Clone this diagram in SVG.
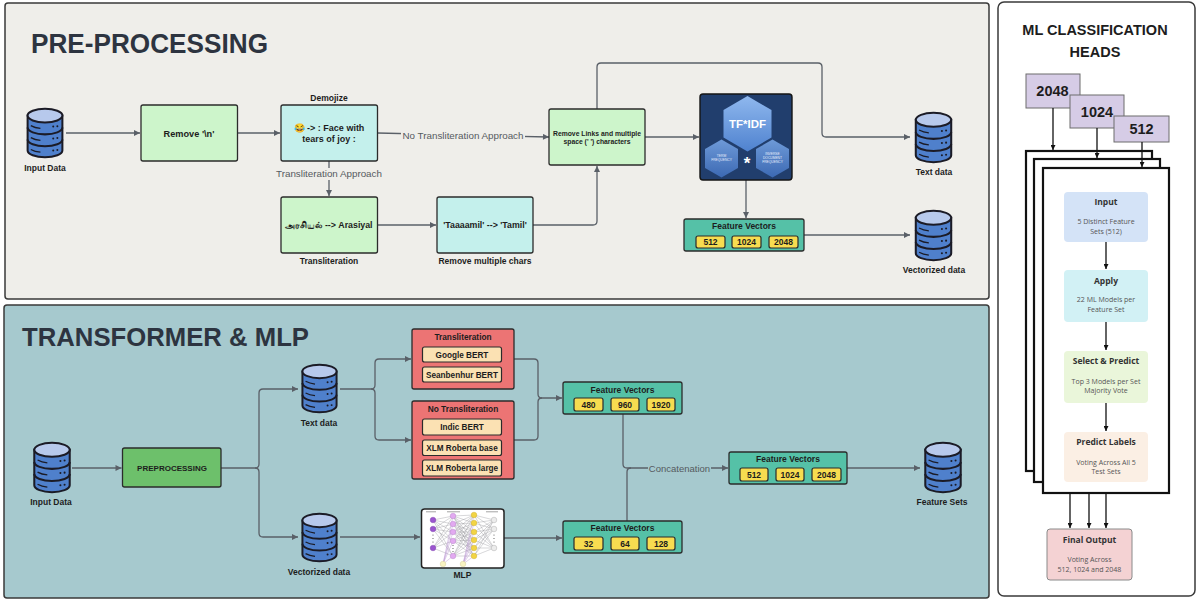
<svg xmlns="http://www.w3.org/2000/svg" width="1196" height="599" viewBox="0 0 1196 599">
<style>
.t{font-family:"Liberation Sans",Arial,sans-serif;font-weight:bold;fill:#1d1d1d;text-anchor:middle}
.g{font-family:"Liberation Sans",Arial,sans-serif;fill:#555a60;text-anchor:middle}
.o{font-family:"Open Sans","Liberation Sans",sans-serif;text-anchor:middle}
.title{font-family:"Liberation Sans",Arial,sans-serif;font-weight:bold;fill:#2d3440}
.conn{fill:none;stroke:#5a6068;stroke-width:1.3}
.k{fill:none;stroke:#111;stroke-width:1.3}
.bx{stroke:#2b2b2b;stroke-width:1.3}
.lg{fill:#cdf5cb}
.lc{fill:#c4f0ec}
.fv{fill:#55c1a7;stroke:#2b2b2b;stroke-width:1.3}
.pill{fill:#f7dc50;stroke:#2b2b2b;stroke-width:1.2}
.red{fill:#ec7474;stroke:#2b2b2b;stroke-width:1.3}
.pch{fill:#fbe1b3;stroke:#2b2b2b;stroke-width:1.2}
.frm{fill:#fff;stroke:#111;stroke-width:2.2}
.pur{fill:#d6cce6;stroke:#6d6d6d;stroke-width:1}
</style>
<defs>
<marker id="ah" viewBox="0 0 10 10" refX="10" refY="5" markerWidth="7" markerHeight="6" orient="auto" markerUnits="userSpaceOnUse"><path d="M0,0L10,5L0,10z" fill="#5a6068"/></marker>
<marker id="ak" viewBox="0 0 10 10" refX="10" refY="5" markerWidth="5" markerHeight="5" orient="auto" markerUnits="userSpaceOnUse"><path d="M0,0L10,5L0,10z" fill="#111"/></marker>
<symbol id="db" viewBox="-1.5 -1.5 45 59">
<path d="M2,9V47A19,7.5 0 0 0 40,47V9Z" fill="#4f80cc" stroke="#1b1b26" stroke-width="2.2"/>
<path d="M2,22A19,7.5 0 0 0 40,22M2,35A19,7.5 0 0 0 40,35" fill="none" stroke="#1b1b26" stroke-width="2.2"/>
<ellipse cx="21" cy="9" rx="19" ry="7.5" fill="#b7c9ec" stroke="#1b1b26" stroke-width="2.2"/>
<path d="M5.5,20Q10,22.5 16,23M5.5,33Q10,35.5 16,36M5.5,46Q10,48.5 16,49" fill="none" stroke="#1b1b26" stroke-width="1.4"/>
<g fill="#1b1b26"><circle cx="30" cy="21" r="1.1"/><circle cx="34.5" cy="20.5" r="1.1"/><circle cx="30" cy="34" r="1.1"/><circle cx="34.5" cy="33.5" r="1.1"/><circle cx="30" cy="47" r="1.1"/><circle cx="34.5" cy="46.5" r="1.1"/></g>
</symbol>
<linearGradient id="hx" x1="0" y1="0" x2="0" y2="1"><stop offset="0" stop-color="#8fb8ee"/><stop offset="1" stop-color="#4f82cf"/></linearGradient>
<linearGradient id="hx2" x1="0" y1="0" x2="0" y2="1"><stop offset="0" stop-color="#6e9ad8"/><stop offset="1" stop-color="#3c69b3"/></linearGradient>
</defs>

<!-- panels -->
<rect x="5" y="3" width="984" height="296" rx="3" fill="#efeeea" stroke="#3a3a3a" stroke-width="1.5"/>
<rect x="4" y="305" width="985" height="293" rx="3" fill="#a6c9ce" stroke="#3a3a3a" stroke-width="1.5"/>
<rect x="998" y="2" width="197" height="594" rx="6" fill="#fff" stroke="#3a3a3a" stroke-width="1.5"/>
<text class="title" x="31" y="53" font-size="27" textLength="237" lengthAdjust="spacingAndGlyphs">PRE-PROCESSING</text>
<text class="title" x="22" y="346" font-size="26" textLength="287" lengthAdjust="spacingAndGlyphs">TRANSFORMER &amp; MLP</text>

<!-- connectors -->
<g id="connectors">
<path class="conn" d="M66,133H140" marker-end="url(#ah)"/>
<path class="conn" d="M237.5,133H280" marker-end="url(#ah)"/>
<path class="conn" d="M377.5,133L549,137" marker-end="url(#ah)"/>
<rect x="401" y="128" width="124" height="13" fill="#efeeea"/>
<text class="g" x="463" y="138.5" font-size="9.8">No Transliteration Approach</text>
<path class="conn" d="M329,161V196" marker-end="url(#ah)"/>
<rect x="274" y="168" width="110" height="12" fill="#efeeea"/>
<text class="g" x="329" y="177" font-size="9.8">Transliteration Approach</text>
<path class="conn" d="M377.5,225H436" marker-end="url(#ah)"/>
<path class="conn" d="M533,225H593Q597,225 597,221V166" marker-end="url(#ah)"/>
<path class="conn" d="M597,109V67Q597,63 601,63H818Q822,63 822,67V133Q822,137 826,137H910" marker-end="url(#ah)"/>
<path class="conn" d="M645,137H699" marker-end="url(#ah)"/>
<path class="conn" d="M746,180V218" marker-end="url(#ah)"/>
<path class="conn" d="M804,235H910" marker-end="url(#ah)"/>

<path class="conn" d="M72,468H121.5" marker-end="url(#ah)"/>
<path class="conn" d="M221,468H255Q259,468 259,464V393Q259,389 263,389H298" marker-end="url(#ah)"/>
<path class="conn" d="M255,468Q259,468 259,472V533Q259,537 263,537H298" marker-end="url(#ah)"/>
<path class="conn" d="M340,389H371Q375,389 375,385V363Q375,359 379,359H411" marker-end="url(#ah)"/>
<path class="conn" d="M371,389Q375,389 375,393V436Q375,440 379,440H411" marker-end="url(#ah)"/>
<path class="conn" d="M514,359H534Q538,359 538,363V394Q538,398 542,398H562" marker-end="url(#ah)"/>
<path class="conn" d="M514,440H534Q538,440 538,436V402Q538,398 542,398"/>
<path class="conn" d="M340,537H420" marker-end="url(#ah)"/>
<path class="conn" d="M504,538H562" marker-end="url(#ah)"/>
<path class="conn" d="M623,414V464Q623,468 627,468H728" marker-end="url(#ah)"/>
<path class="conn" d="M627,521V472Q627,468 631,468"/>
<rect x="648" y="462" width="63" height="12" fill="#a6c9ce"/>
<text class="g" x="679.5" y="471.5" font-size="9.5">Concatenation</text>
<path class="conn" d="M847,468H920" marker-end="url(#ah)"/>
</g>

<!-- pre-processing nodes -->
<g id="in1"><use href="#db" x="24" y="106" width="42" height="54"/><text class="t" x="45" y="171" font-size="8.5">Input Data</text></g>
<g id="rmn"><rect class="bx lg" x="141" y="105" width="96.5" height="56" rx="2"/><text class="t" x="189" y="136.5" font-size="9.2">Remove '\n'</text></g>
<g id="demoji"><text class="t" x="329" y="101" font-size="8.5">Demojize</text><rect class="bx lc" x="281" y="105" width="96.5" height="56" rx="2"/>
<text class="t" x="329" y="131" font-size="9">😂 -&gt; : Face with</text><text class="t" x="329" y="141.5" font-size="9">tears of joy :</text></g>
<g id="translit"><rect class="bx lg" x="281" y="197" width="96.5" height="56" rx="2"/><text class="t" x="329" y="228" font-size="8.8">அரசியல் --&gt; Arasiyal</text><text class="t" x="329" y="263.5" font-size="8.5">Transliteration</text></g>
<g id="rmchars"><rect class="bx lc" x="437" y="197" width="96" height="56" rx="2"/><text class="t" x="485" y="228" font-size="8.8">'Taaaamil' --&gt; 'Tamil'</text><text class="t" x="485" y="263.5" font-size="8.5">Remove multiple chars</text></g>
<g id="rmlinks"><rect class="bx lg" x="549" y="109" width="96" height="56" rx="2"/><text class="t" x="597" y="135.5" font-size="6.8">Remove Links and multiple</text><text class="t" x="597" y="144" font-size="6.8">space (' ') characters</text></g>
<g id="tfidf"><rect x="700" y="94" width="92" height="86" rx="3" fill="#213e6d" stroke="#151515" stroke-width="1.4"/>
<polygon points="747.5,96 771.5,110 771.5,137.5 747.5,151.5 723.5,137.5 723.5,110" fill="url(#hx)"/>
<polygon points="721.5,139.5 738,149 738,168 721.5,177.5 705,168 705,149" fill="url(#hx2)"/>
<polygon points="772.5,139.5 789,149 789,168 772.5,177.5 756,168 756,149" fill="url(#hx2)"/>
<text x="747.5" y="128" font-family="Liberation Sans,Arial,sans-serif" font-weight="bold" font-size="11.5" fill="#fff" text-anchor="middle" textLength="37" lengthAdjust="spacingAndGlyphs">TF*IDF</text>
<g font-family="Liberation Sans,Arial,sans-serif" font-size="3.3" fill="#e6eefc" text-anchor="middle"><text x="721.5" y="156.5">TERM</text><text x="721.5" y="160.5">FREQUENCY</text><text x="772.5" y="154.5">INVERSE</text><text x="772.5" y="158.5">DOCUMENT</text><text x="772.5" y="162.5">FREQUENCY</text></g>
<text x="747" y="168.5" font-family="Liberation Sans,Arial,sans-serif" font-weight="bold" font-size="17" fill="#fff" text-anchor="middle">*</text></g>
<g id="fvtop"><rect class="fv" x="684" y="219" width="120" height="32" rx="2"/><text class="t" x="744" y="228.5" font-size="8.5">Feature Vectors</text>
<rect class="pill" x="696" y="236" width="29" height="12" rx="2"/><rect class="pill" x="732" y="236" width="29" height="12" rx="2"/><rect class="pill" x="769" y="236" width="29" height="12" rx="2"/>
<text class="t" x="710.5" y="245" font-size="8.5">512</text><text class="t" x="746.5" y="245" font-size="8.5">1024</text><text class="t" x="783.5" y="245" font-size="8.5">2048</text></g>
<g id="textdata1"><use href="#db" x="912" y="110" width="43" height="55"/><text class="t" x="934" y="174.5" font-size="8.5">Text data</text></g>
<g id="vecdata1"><use href="#db" x="912" y="208" width="43" height="55"/><text class="t" x="934" y="272.5" font-size="8.5">Vectorized data</text></g>

<!-- transformer nodes -->
<g id="in2"><use href="#db" x="31" y="440" width="42" height="55"/><text class="t" x="51" y="505" font-size="8.5">Input Data</text></g>
<g id="prep"><rect class="bx" x="122.5" y="448" width="98.5" height="39" rx="2" fill="#6dc06b"/><text class="t" x="172" y="471" font-size="8">PREPROCESSING</text></g>
<g id="textdata2"><use href="#db" x="299" y="362" width="41" height="53"/><text class="t" x="319" y="426" font-size="8.5">Text data</text></g>
<g id="vecdata2"><use href="#db" x="299" y="511" width="41" height="53"/><text class="t" x="319" y="574.5" font-size="8.5">Vectorized data</text></g>
<g id="tlbox"><rect class="red" x="412" y="329" width="102" height="60" rx="2"/><text class="t" x="463" y="339.5" font-size="8.3">Transliteration</text>
<rect class="pch" x="422.5" y="347" width="79" height="15" rx="2"/><text class="t" x="462" y="357.5" font-size="8.2">Google BERT</text>
<rect class="pch" x="422.5" y="367" width="79" height="15" rx="2"/><text class="t" x="462" y="377.5" font-size="8.2">Seanbenhur BERT</text></g>
<g id="ntlbox"><rect class="red" x="412" y="401" width="102" height="78" rx="2"/><text class="t" x="463" y="412" font-size="8.3">No Transliteration</text>
<rect class="pch" x="422.5" y="419" width="79" height="16" rx="2"/><text class="t" x="462" y="430" font-size="8.2">Indic BERT</text>
<rect class="pch" x="422.5" y="440" width="79" height="15.5" rx="2"/><text class="t" x="462" y="450.7" font-size="8.2">XLM Roberta base</text>
<rect class="pch" x="422.5" y="460" width="79" height="16" rx="2"/><text class="t" x="462" y="471" font-size="8.2">XLM Roberta large</text></g>
<g id="mlp"><rect x="421.5" y="509" width="82.5" height="59" rx="3" fill="#fff" stroke="#222" stroke-width="1.5"/>
<path d="M426,511.8H436M447,511.8H460M486,511.8H498" stroke="#9a9a9a" stroke-width="0.9"/>
<path fill="none" stroke="#8d8d95" stroke-width="0.35" d="M433 520L453 516M433 520L453 524M433 520L453 532M433 520L453 541M433 520L453 556M433 529L453 516M433 529L453 524M433 529L453 532M433 529L453 541M433 529L453 556M433 548L453 516M433 548L453 524M433 548L453 532M433 548L453 541M433 548L453 556
M453 516L474 515M453 516L474 523M453 516L474 532M453 516L474 540M453 516L474 548M453 516L474 556M453 524L474 515M453 524L474 523M453 524L474 532M453 524L474 540M453 524L474 548M453 524L474 556M453 532L474 515M453 532L474 523M453 532L474 532M453 532L474 540M453 532L474 548M453 532L474 556M453 541L474 515M453 541L474 523M453 541L474 532M453 541L474 540M453 541L474 548M453 541L474 556M453 556L474 515M453 556L474 523M453 556L474 532M453 556L474 540M453 556L474 548M453 556L474 556
M474 515L494 520M474 515L494 529M474 515L494 548M474 523L494 520M474 523L494 529M474 523L494 548M474 532L494 520M474 532L494 529M474 532L494 548M474 540L494 520M474 540L494 529M474 540L494 548M474 548L494 520M474 548L494 529M474 548L494 548M474 556L494 520M474 556L494 529M474 556L494 548"/>
<path fill="none" stroke="#b48ad0" stroke-width="0.4" d="M443 564L453 516M443 564L453 524M443 564L453 532M443 564L453 541M443 564L453 556M463 564L474 515M463 564L474 523M463 564L474 532M463 564L474 540M463 564L474 548M463 564L474 556"/>
<g fill="#9b55cf" stroke="#7a3aa8" stroke-width="0.4"><circle cx="433" cy="520" r="2.8"/><circle cx="433" cy="529" r="2.8"/><circle cx="433" cy="548" r="2.8"/></g>
<g fill="#e2a9f0" stroke="#b07cc4" stroke-width="0.4"><circle cx="453" cy="516" r="2.8"/><circle cx="453" cy="524" r="2.8"/><circle cx="453" cy="532" r="2.8"/><circle cx="453" cy="541" r="2.8"/><circle cx="453" cy="556" r="2.8"/></g>
<g fill="#f2d444" stroke="#c8a820" stroke-width="0.4"><circle cx="474" cy="515" r="2.8"/><circle cx="474" cy="523" r="2.8"/><circle cx="474" cy="532" r="2.8"/><circle cx="474" cy="540" r="2.8"/><circle cx="474" cy="548" r="2.8"/><circle cx="474" cy="556" r="2.8"/></g>
<g fill="#ececec" stroke="#a0a0a0" stroke-width="0.4"><circle cx="494" cy="520" r="2.8"/><circle cx="494" cy="529" r="2.8"/><circle cx="494" cy="548" r="2.8"/></g>
<g fill="#f8f3c2" stroke="#cfc78a" stroke-width="0.4"><circle cx="443" cy="564" r="2.8"/><circle cx="463" cy="564" r="2.8"/></g>
<g fill="#555"><circle cx="433" cy="535" r="0.6"/><circle cx="433" cy="538.5" r="0.6"/><circle cx="433" cy="542" r="0.6"/><circle cx="453" cy="545.5" r="0.6"/><circle cx="453" cy="548.5" r="0.6"/><circle cx="453" cy="551.5" r="0.6"/><circle cx="494" cy="535" r="0.6"/><circle cx="494" cy="538.5" r="0.6"/><circle cx="494" cy="542" r="0.6"/></g>
<text class="t" x="462.5" y="578" font-size="8.5">MLP</text></g>
<g id="fv1"><rect class="fv" x="563" y="382" width="119" height="32" rx="2"/><text class="t" x="622.5" y="392.5" font-size="8.5">Feature Vectors</text>
<rect class="pill" x="574" y="398" width="29" height="13" rx="2"/><rect class="pill" x="611" y="398" width="28" height="13" rx="2"/><rect class="pill" x="647" y="398" width="28" height="13" rx="2"/>
<text class="t" x="588.5" y="407.7" font-size="8.5">480</text><text class="t" x="625" y="407.7" font-size="8.5">960</text><text class="t" x="661" y="407.7" font-size="8.5">1920</text></g>
<g id="fv2"><rect class="fv" x="563" y="521" width="119" height="32" rx="2"/><text class="t" x="622.5" y="531" font-size="8.5">Feature Vectors</text>
<rect class="pill" x="574" y="537" width="29" height="13" rx="2"/><rect class="pill" x="611" y="537" width="28" height="13" rx="2"/><rect class="pill" x="647" y="537" width="28" height="13" rx="2"/>
<text class="t" x="588.5" y="546.7" font-size="8.5">32</text><text class="t" x="625" y="546.7" font-size="8.5">64</text><text class="t" x="661" y="546.7" font-size="8.5">128</text></g>
<g id="fv3"><rect class="fv" x="729" y="452" width="118" height="32" rx="2"/><text class="t" x="788" y="461.5" font-size="8.5">Feature Vectors</text>
<rect class="pill" x="740" y="468" width="28" height="13" rx="2"/><rect class="pill" x="776" y="468" width="28" height="13" rx="2"/><rect class="pill" x="812" y="468" width="29" height="13" rx="2"/>
<text class="t" x="754" y="477.7" font-size="8.5">512</text><text class="t" x="790" y="477.7" font-size="8.5">1024</text><text class="t" x="826.5" y="477.7" font-size="8.5">2048</text></g>
<g id="fsets"><use href="#db" x="922" y="440" width="42" height="55"/><text class="t" x="942" y="505" font-size="8.5">Feature Sets</text></g>

<!-- ML classification heads -->
<g id="heads">
<text class="t" x="1095" y="35" font-size="14.5" fill="#333">ML CLASSIFICATION</text>
<text class="t" x="1095" y="57" font-size="14.5" fill="#333">HEADS</text>
<rect class="frm" x="1026" y="151" width="126" height="320"/>
<rect class="frm" x="1034" y="159" width="126" height="323"/>
<rect class="frm" x="1043" y="168" width="126" height="325"/>
<g id="h2048"><rect class="pur" x="1026" y="74" width="54" height="34"/><text class="t" x="1052.5" y="96" font-size="14.5">2048</text></g>
<g id="h1024"><rect class="pur" x="1070" y="95" width="54" height="33"/><text class="t" x="1097" y="117" font-size="14.5">1024</text></g>
<g id="h512"><rect class="pur" x="1114" y="116" width="55" height="26"/><text class="t" x="1141.5" y="134" font-size="14.5">512</text></g>
<path class="k" d="M1053,108V150" marker-end="url(#ak)"/>
<path class="k" d="M1097,128V158" marker-end="url(#ak)"/>
<path class="k" d="M1142,142V167" marker-end="url(#ak)"/>
<g id="hin"><rect x="1064" y="192" width="84" height="50" rx="4" fill="#d4e3f7"/><text class="o" x="1106" y="205" font-size="8.5" font-weight="bold" fill="#333">Input</text><text class="o" x="1106" y="224" font-size="7" fill="#555">5 Distinct Feature</text><text class="o" x="1106" y="233.5" font-size="7" fill="#555">Sets (512)</text></g>
<path class="k" d="M1106,242V269" marker-end="url(#ak)"/>
<g id="happ"><rect x="1064" y="270" width="84" height="52" rx="4" fill="#d2f1f5"/><text class="o" x="1106" y="283.5" font-size="8.5" font-weight="bold" fill="#333">Apply</text><text class="o" x="1106" y="302" font-size="7" fill="#555">22 ML Models per</text><text class="o" x="1106" y="312" font-size="7" fill="#555">Feature Set</text></g>
<path class="k" d="M1106,322V350" marker-end="url(#ak)"/>
<g id="hsel"><rect x="1064" y="351" width="84" height="52" rx="4" fill="#eaf6da"/><text class="o" x="1106" y="364" font-size="8.5" font-weight="bold" fill="#333">Select &amp; Predict</text><text class="o" x="1106" y="383.5" font-size="7" fill="#555">Top 3 Models per Set</text><text class="o" x="1106" y="393" font-size="7" fill="#555">Majority Vote</text></g>
<path class="k" d="M1106,403V431" marker-end="url(#ak)"/>
<g id="hpred"><rect x="1064" y="432" width="84" height="50" rx="4" fill="#fbefe4"/><text class="o" x="1106" y="445" font-size="8.5" font-weight="bold" fill="#333">Predict Labels</text><text class="o" x="1106" y="464.5" font-size="7" fill="#555">Voting Across All 5</text><text class="o" x="1106" y="474" font-size="7" fill="#555">Test Sets</text></g>
<path class="k" d="M1070,493V528" marker-end="url(#ak)"/>
<path class="k" d="M1089,493V528" marker-end="url(#ak)"/>
<path class="k" d="M1106,493V528" marker-end="url(#ak)"/>
<g id="hfinal"><rect x="1047" y="529" width="85" height="51" rx="3" fill="#f4d2d3" stroke="#8a8a8a" stroke-width="1"/><text class="o" x="1089.5" y="542.5" font-size="8.5" font-weight="bold" fill="#333">Final Output</text><text class="o" x="1089.5" y="561.5" font-size="7" fill="#555">Voting Across</text><text class="o" x="1089.5" y="571.5" font-size="7" fill="#555">512, 1024 and 2048</text></g>
</g>
</svg>
